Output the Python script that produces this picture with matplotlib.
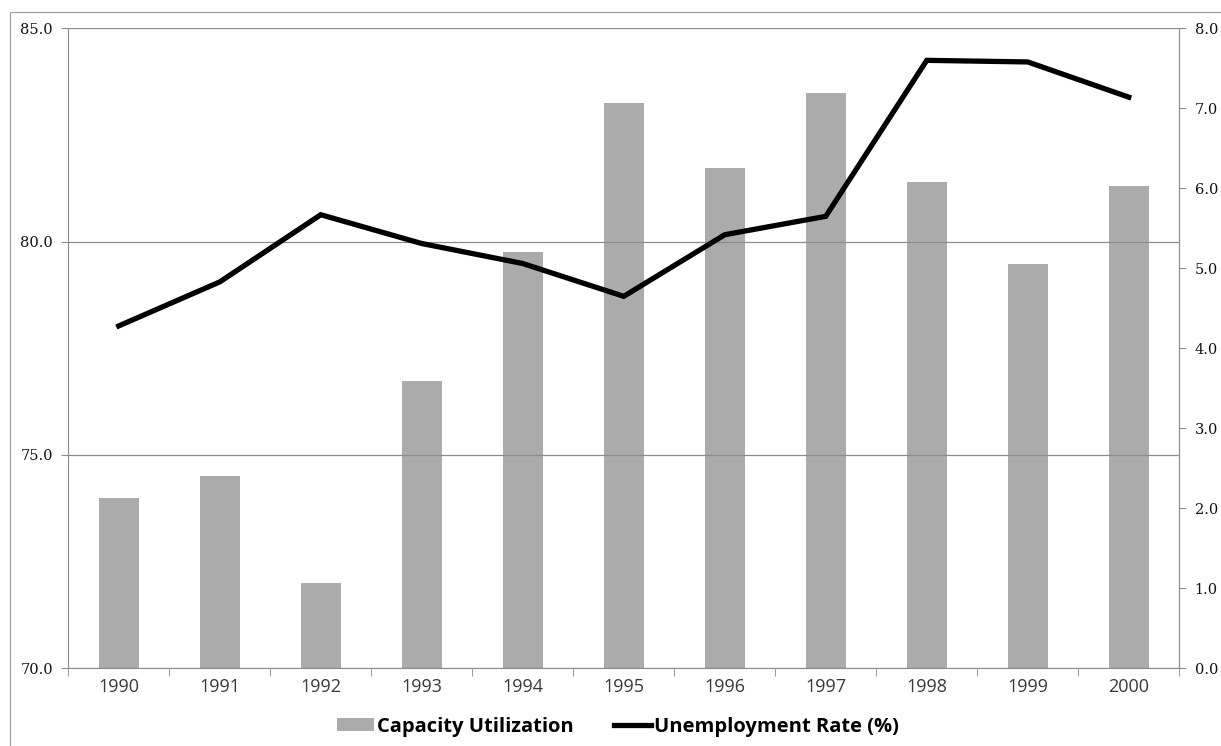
import matplotlib.pyplot as plt
import numpy as np
from matplotlib.patches import Patch, Rectangle
from matplotlib.lines import Line2D
from matplotlib.ticker import FixedLocator

years = ["1990", "1991", "1992", "1993", "1994", "1995",
         "1996", "1997", "1998", "1999", "2000"]
capacity_utilization = [74.0, 74.5, 72.0, 76.73, 79.75, 83.25,
                        81.73, 83.48, 81.41, 79.48, 81.3]
unemployment_rate = [4.28, 4.83, 5.67, 5.31, 5.06, 4.65,
                     5.42, 5.65, 7.60, 7.58, 7.14]

bar_color = "#ababab"
axis_color = "#8c8c8c"

fig = plt.figure(figsize=(12.21, 7.46), dpi=100)

# thin frame around the whole chart area
fig.patches.append(Rectangle((10 / 1221, -0.05), 1.1, (746 - 12) / 746 + 0.05,
                             transform=fig.transFigure, fill=False,
                             edgecolor="#a0a0a0", linewidth=0.9))

ax = fig.add_axes([0.0559, 0.1042, 0.9099, 0.8578])
x = np.arange(len(years))

ax.bar(x, capacity_utilization, width=0.40, color=bar_color, zorder=1,
       label="Capacity Utilization")
ax.set_ylim(70, 85)
ax.set_xlim(-0.5, len(years) - 0.5)
ax.set_yticks([70, 75, 80, 85])
ax.set_yticklabels([f"{v:.1f}" for v in [70, 75, 80, 85]],
                   family="DejaVu Serif", fontsize=10.5, color="#111111")
ax.set_axisbelow(False)
ax.grid(axis="y", color=axis_color, linewidth=0.9)
ax.set_xticks(x)
ax.set_xticklabels(years, family="Open Sans", fontsize=13, color="#3a3a3a")
ax.xaxis.set_minor_locator(FixedLocator(np.arange(-0.5, len(years), 1.0)))
ax.tick_params(axis="x", which="major", length=0, pad=7)
ax.tick_params(axis="x", which="minor", length=6, color=axis_color, direction="out")
ax.tick_params(axis="y", length=5, color=axis_color, direction="out", pad=6)
for side in ["left", "right", "bottom"]:
    ax.spines[side].set_color(axis_color)
ax.spines["top"].set_visible(False)

ax2 = ax.twinx()
ax2.plot(x, unemployment_rate, color="black", linewidth=3.8,
         solid_joinstyle="miter", label="Unemployment Rate (%)")
ax2.set_ylim(0, 8)
ax2.set_yticks(np.arange(0, 9, 1))
ax2.set_yticklabels([f"{v:.1f}" for v in range(0, 9)],
                    family="DejaVu Serif", fontsize=10.5, color="#111111")
ax2.tick_params(axis="y", length=5, color=axis_color, direction="out", pad=6)
for side in ["left", "right", "bottom", "top"]:
    ax2.spines[side].set_visible(False)
ax2.spines["right"].set_visible(True)
ax2.spines["right"].set_color(axis_color)

handles = [Patch(facecolor=bar_color, edgecolor="none"),
           Line2D([0], [0], color="black", linewidth=3.8)]
fig.legend(handles, ["Capacity Utilization", "Unemployment Rate (%)"],
           loc="center", bbox_to_anchor=(0.506, 0.026), ncol=2, frameon=False,
           prop={"family": "Open Sans", "weight": "bold", "size": 14.5},
           handlelength=1.85, handleheight=0.62, handletextpad=0.12,
           columnspacing=2.0)

fig.savefig("out.png", dpi=100)
